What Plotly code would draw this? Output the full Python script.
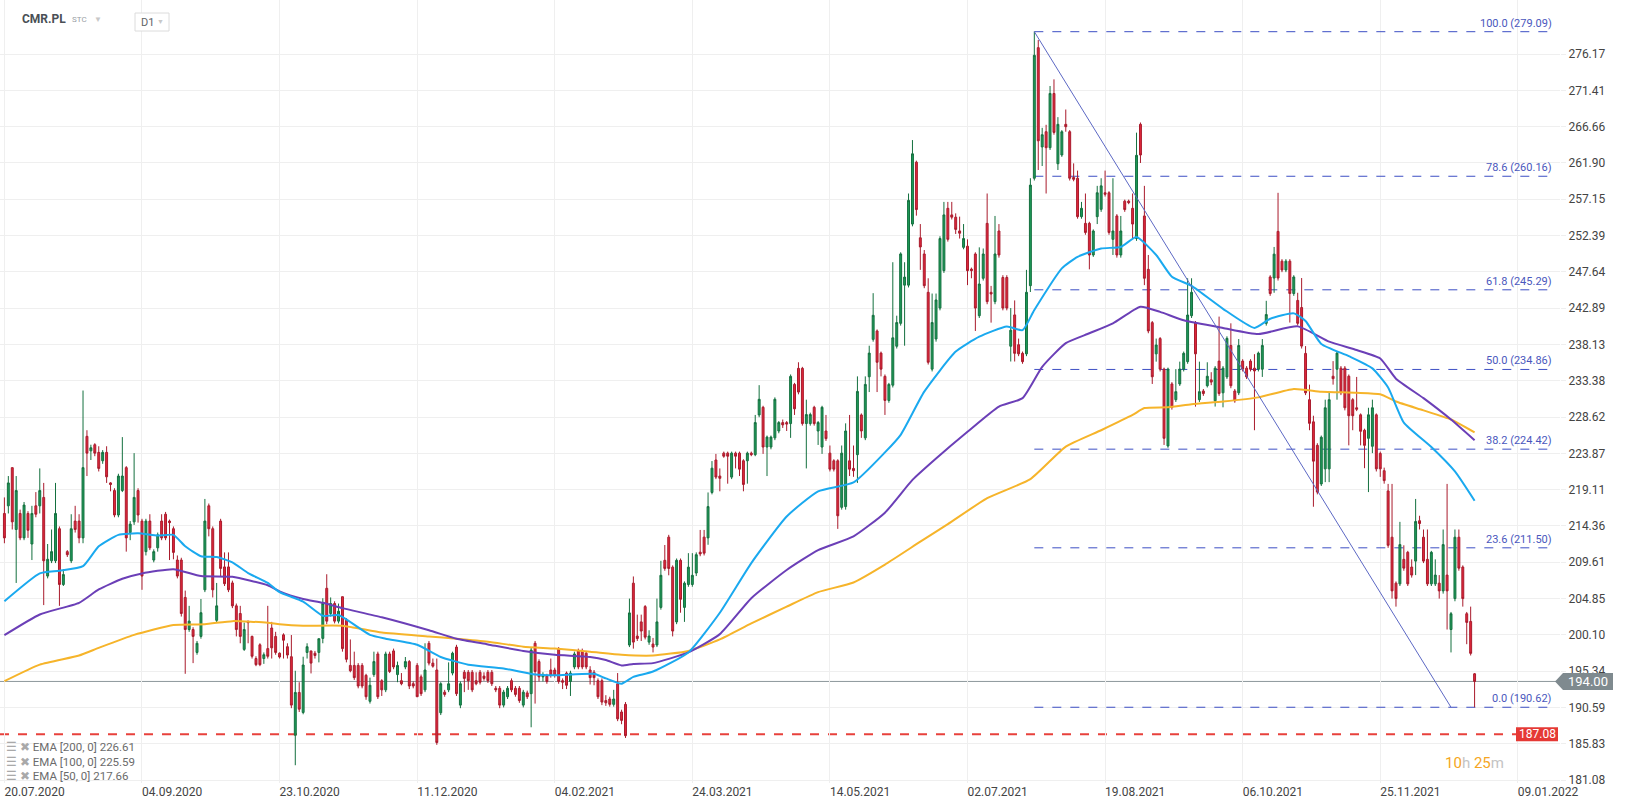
import plotly.graph_objects as go

# ---------------- DATA ----------------
# candles as (open, high, low, close), in time order, one segment per chart region
seg_a = [
    (216.0, 218.1, 212.1, 212.8), (217.0, 220.9, 216.0, 220.0), (222.0, 222.0, 213.9, 214.9),
    (213.9, 220.9, 206.9, 219.0), (216.0, 216.5, 212.5, 212.8), (212.8, 217.5, 212.5, 217.1),
    (216.0, 216.3, 212.8, 213.8), (212.0, 217.0, 209.9, 216.0), (217.0, 218.8, 215.5, 215.9),
    (217.0, 221.9, 216.0, 219.0), (218.1, 220.0, 204.0, 209.8), (207.8, 212.0, 207.5, 210.0),
    (209.8, 213.9, 209.5, 211.0), (209.8, 220.0, 209.5, 216.0), (214.0, 214.3, 203.9, 206.7),
    (206.7, 208.7, 206.5, 208.0), (211.0, 211.2, 210.3, 210.6), (209.8, 215.9, 209.5, 214.0),
    (215.0, 217.0, 213.5, 213.9), (215.0, 215.9, 212.1, 212.8), (212.8, 232.1, 212.1, 222.0),
    (226.1, 226.9, 220.9, 223.9), (224.2, 225.0, 223.0, 224.6), (225.0, 225.2, 223.5, 223.9),
    (224.0, 224.8, 221.5, 221.9), (222.9, 224.3, 222.5, 224.0), (224.0, 224.8, 220.0, 220.8),
    (220.0, 220.1, 218.9, 219.8), (219.0, 219.3, 215.5, 215.8), (215.8, 221.2, 215.5, 220.9),
    (219.0, 226.0, 218.8, 220.9), (222.0, 222.2, 211.0, 212.8), (213.5, 215.0, 212.5, 214.6),
    (214.9, 223.9, 214.5, 218.1), (219.0, 219.3, 214.8, 215.8), (215.0, 215.3, 206.0, 207.8),
    (211.0, 215.3, 210.5, 215.0), (215.0, 215.9, 211.2, 211.5), (209.9, 211.3, 209.6, 211.0),
    (211.5, 213.5, 211.0, 213.2), (215.0, 215.9, 212.5, 212.8), (215.9, 216.2, 212.5, 212.8),
    (215.0, 215.2, 209.9, 214.8), (214.0, 214.3, 210.0, 210.9), (209.9, 210.5, 207.5, 207.8),
    (209.9, 210.2, 202.5, 202.9), (205.0, 205.9, 195.0, 200.8), (200.8, 203.9, 200.5, 201.9),
    (200.8, 201.1, 196.4, 199.9), (197.8, 199.3, 197.5, 199.0), (199.9, 204.8, 199.6, 203.0),
    (206.0, 217.9, 205.7, 215.0), (217.0, 217.3, 213.0, 214.0), (214.0, 214.3, 205.0, 206.0),
    (202.0, 206.9, 201.7, 203.9), (215.0, 215.3, 207.8, 208.8), (209.0, 210.9, 206.5, 206.8),
    (209.0, 210.9, 205.7, 206.0), (206.9, 207.2, 203.6, 203.9), (203.9, 204.2, 199.9, 200.8),
    (202.9, 203.9, 199.0, 199.9), (198.2, 201.7, 198.0, 200.8), (201.9, 201.9, 199.0, 201.7),
    (199.9, 200.0, 197.0, 197.3), (197.0, 197.3, 196.0, 196.2), (198.8, 199.0, 196.0, 196.2),
    (197.0, 197.8, 196.3, 197.5), (198.3, 203.9, 197.0, 197.3), (201.0, 201.8, 197.0, 198.4),
    (199.9, 200.5, 197.5, 197.8),
]
seg_b = [
    (197.7, 197.8, 197.0, 197.2), (200.1, 200.3, 197.0, 199.4), (198.55, 199.0, 197.0, 197.46),
    (197.24, 200.08, 190.5, 190.9), (186.96, 195.4, 183.03, 192.56), (192.56, 193.9, 190.0, 190.37),
    (189.94, 197.24, 189.7, 196.15), (197.8, 199.0, 197.0, 198.55), (198.0, 198.0, 195.05, 196.4),
    (197.7, 198.0, 197.0, 197.4), (197.8, 199.6, 196.5, 199.6), (199.64, 204.9, 199.0, 204.23),
    (206.2, 208.04, 201.5, 201.9), (202.9, 205.0, 202.5, 204.2), (204.2, 204.5, 201.6, 201.9),
    (201.9, 204.2, 201.6, 203.2), (205.1, 205.1, 197.9, 198.3), (202.0, 202.3, 196.5, 196.9),
    (196.1, 199.5, 195.2, 195.4), (196.1, 197.9, 194.2, 194.5), (196.1, 196.4, 193.1, 193.4),
    (196.1, 196.4, 193.1, 193.4), (194.8, 195.0, 191.6, 192.0), (191.4, 194.5, 191.1, 193.5),
    (194.9, 197.9, 194.6, 196.6), (197.6, 197.9, 191.7, 192.0), (194.1, 194.3, 192.1, 192.9),
    (192.9, 197.9, 192.6, 197.6), (197.6, 197.9, 195.1, 195.3), (198.0, 198.3, 195.6, 195.9),
    (194.9, 196.6, 193.9, 196.1), (194.1, 195.1, 193.5, 193.7), (195.9, 197.2, 195.6, 196.6),
    (196.6, 196.8, 193.0, 193.4), (193.7, 194.0, 193.1, 193.4), (196.1, 196.4, 192.0, 192.0),
    (194.6, 194.9, 192.1, 192.4), (192.9, 199.0, 192.6, 195.5), (199.0, 199.3, 196.1, 196.4),
    (196.4, 197.0, 195.8, 196.0), (195.5, 197.0, 185.7, 186.0), (189.9, 193.9, 189.6, 193.7),
    (192.6, 192.9, 192.0, 192.3), (192.9, 196.5, 192.6, 193.7), (195.1, 197.9, 194.8, 197.7),
    (198.5, 198.8, 192.1, 192.4), (190.9, 194.0, 190.5, 193.7), (195.2, 195.5, 192.6, 194.4),
    (195.2, 195.5, 192.9, 194.1), (195.2, 195.5, 192.6, 192.9), (194.1, 195.2, 193.5, 193.7),
    (195.2, 195.5, 193.6, 193.9), (194.7, 195.2, 194.1, 194.4), (195.2, 195.5, 193.8, 194.1),
    (195.2, 195.5, 193.4, 193.7), (193.1, 193.4, 192.6, 192.9), (193.1, 193.4, 190.5, 190.9),
    (190.9, 192.9, 190.6, 192.6), (192.0, 193.4, 191.7, 193.1), (194.1, 194.4, 192.6, 192.9),
    (193.1, 193.4, 192.0, 192.3), (193.1, 193.4, 191.2, 191.5), (190.9, 192.9, 190.6, 192.6),
    (192.5, 192.8, 191.7, 192.0), (192.4, 198.4, 188.0, 198.1), (199.0, 199.3, 191.1, 195.3),
    (196.6, 196.9, 194.0, 194.6), (194.6, 195.2, 194.0, 194.8), (194.7, 195.0, 193.7, 194.0),
    (195.5, 197.0, 194.5, 194.8), (195.5, 195.8, 194.5, 194.8), (198.3, 198.5, 193.7, 194.0),
    (194.1, 194.4, 193.0, 193.9), (195.1, 195.3, 193.0, 193.5), (194.0, 195.4, 192.1, 195.1),
    (195.9, 197.9, 195.6, 197.6), (198.0, 198.3, 195.6, 195.9), (198.0, 198.3, 195.6, 195.9),
    (197.7, 198.0, 195.6, 195.9), (195.5, 196.0, 193.6, 194.5), (195.2, 195.5, 193.5, 194.5),
    (194.1, 194.4, 191.7, 192.0), (194.1, 194.4, 190.9, 191.3), (191.5, 192.2, 190.8, 191.2),
    (191.7, 192.0, 190.7, 191.0), (191.0, 192.9, 190.7, 191.7), (193.7, 195.1, 188.8, 189.1),
    (190.0, 190.3, 188.4, 188.9), (191.0, 191.3, 186.6, 186.9),
]
seg_c = [
    (198.77, 204.85, 198.5, 202.98), (206.87, 207.75, 198.3, 199.15), (199.95, 202.75, 199.3, 199.62),
    (201.8, 202.75, 199.3, 200.6), (203.8, 204.0, 199.5, 199.8), (199.15, 200.7, 198.8, 199.95),
    (198.9, 199.7, 197.8, 198.5), (198.77, 204.85, 198.5, 201.8), (203.7, 209.8, 203.4, 207.9),
    (209.86, 211.87, 208.5, 208.8), (212.9, 213.2, 207.9, 208.8), (208.97, 209.2, 199.9, 200.6),
    (201.8, 210.1, 201.5, 209.86), (209.86, 210.1, 203.0, 204.76), (203.7, 207.1, 201.8, 206.87),
    (206.7, 210.8, 206.4, 208.97), (206.7, 210.8, 206.4, 207.9), (208.2, 210.9, 207.8, 210.6),
    (210.93, 213.84, 210.4, 210.7), (212.9, 213.84, 210.5, 210.8), (212.8, 218.75, 211.9, 216.9),
    (218.75, 222.86, 218.5, 221.93), (223.0, 223.8, 220.5, 220.76), (220.9, 221.9, 218.9, 220.6),
    (223.9, 224.1, 223.3, 223.5), (223.9, 224.1, 219.9, 223.5), (220.76, 224.1, 220.5, 223.9),
    (223.9, 224.1, 221.9, 223.5), (223.9, 224.1, 220.9, 221.8), (222.9, 223.1, 218.9, 219.8),
    (222.9, 224.1, 219.9, 223.9), (223.9, 224.1, 223.5, 223.7), (223.7, 228.9, 223.5, 227.9),
    (228.9, 232.8, 228.6, 230.95), (229.9, 230.1, 223.8, 224.7), (224.7, 226.2, 220.9, 226.0),
    (224.7, 226.2, 224.4, 226.0), (225.9, 231.2, 225.6, 230.95), (226.8, 228.1, 226.5, 227.9),
    (227.9, 228.3, 227.2, 227.6), (227.9, 228.1, 226.8, 227.7), (227.77, 234.2, 225.9, 233.95),
    (232.9, 233.1, 228.9, 229.7), (235.0, 235.8, 231.6, 231.9), (235.0, 235.2, 227.5, 227.77),
    (227.77, 230.9, 221.9, 228.95), (227.77, 229.2, 227.5, 228.95), (229.9, 230.1, 227.5, 227.77),
    (226.8, 228.1, 224.97, 227.9), (224.7, 230.1, 223.8, 229.9), (226.8, 228.9, 225.5, 225.8),
    (223.9, 224.9, 221.5, 221.8), (222.9, 223.1, 221.5, 221.8), (222.9, 223.1, 213.98, 215.7),
    (216.8, 224.9, 216.5, 223.9), (216.9, 227.8, 216.5, 226.8), (222.9, 228.9, 220.9, 221.8),
    (221.9, 224.9, 220.8, 221.6), (223.7, 233.95, 220.0, 231.98), (228.9, 229.1, 225.9, 226.8),
    (225.9, 233.95, 225.6, 232.9), (233.9, 237.97, 231.9, 237.0), (238.8, 244.85, 238.5, 241.95),
    (239.9, 240.1, 231.9, 235.8), (237.0, 237.2, 233.95, 234.9), (233.95, 234.2, 228.9, 230.8),
    (230.8, 233.1, 230.5, 232.9), (232.8, 248.9, 232.5, 239.0), (237.9, 241.9, 237.6, 241.0),
    (240.9, 250.2, 240.6, 249.99), (245.9, 248.9, 237.97, 246.95), (245.9, 257.9, 245.6, 257.0),
    (253.9, 264.9, 253.6, 263.1), (262.0, 262.2, 255.0, 255.8), (252.1, 253.9, 247.9, 250.9),
]
seg_d = [
    (249.98, 250.5, 245.5, 245.83), (244.96, 246.8, 235.5, 235.8), (234.9, 244.8, 234.6, 241.0),
    (238.85, 244.8, 238.5, 243.96), (242.9, 252.3, 242.6, 252.0), (247.8, 256.8, 247.5, 255.1),
    (255.96, 256.8, 251.6, 251.9), (255.1, 256.8, 254.5, 254.8), (254.8, 255.3, 252.6, 253.2),
    (253.0, 254.87, 252.0, 252.7), (250.85, 253.9, 250.6, 252.0), (251.0, 251.9, 245.9, 247.8),
    (248.0, 248.2, 246.8, 247.8), (249.98, 250.2, 239.9, 242.9), (241.9, 250.85, 241.6, 246.05),
    (246.8, 250.7, 246.5, 249.98), (253.99, 257.9, 243.4, 243.74), (244.96, 245.8, 240.99, 244.74),
    (243.74, 254.96, 243.4, 249.98), (252.99, 253.9, 249.5, 249.85), (246.9, 247.2, 242.6, 242.9),
    (246.9, 247.2, 242.6, 242.9), (237.9, 242.9, 235.9, 240.0), (242.0, 243.9, 235.9, 236.97),
    (238.1, 238.9, 236.6, 236.9), (236.97, 237.2, 235.6, 235.88), (236.9, 247.9, 236.6, 244.96),
    (245.83, 259.9, 245.0, 259.0), (259.9, 279.09, 259.6, 276.0), (277.0, 278.0, 260.98, 264.8),
    (264.0, 266.5, 261.5, 265.6), (265.99, 266.9, 257.9, 263.9), (263.9, 271.98, 263.6, 271.0),
    (271.0, 272.85, 265.6, 265.9), (261.8, 267.9, 260.98, 266.96), (262.95, 266.2, 262.7, 265.99),
    (266.96, 268.9, 265.99, 266.65), (265.99, 266.2, 259.6, 259.9), (260.0, 261.85, 259.5, 259.76),
    (259.9, 260.9, 254.6, 254.87), (254.87, 256.8, 254.6, 255.96), (253.99, 257.9, 252.5, 252.8),
    (253.99, 254.2, 247.97, 249.85), (249.85, 253.2, 249.6, 252.99), (254.87, 258.9, 253.9, 258.0),
    (255.83, 259.9, 255.5, 258.9), (258.0, 260.9, 257.5, 257.8), (258.0, 258.2, 252.5, 252.8),
    (251.9, 259.9, 249.85, 252.99), (254.96, 255.2, 249.5, 249.85), (249.85, 254.96, 249.5, 252.99),
    (256.9, 257.1, 255.5, 255.8), (256.9, 257.1, 256.5, 256.7), (255.96, 257.9, 252.0, 253.9),
    (252.0, 265.87, 251.7, 262.9), (266.96, 267.2, 261.9, 262.94), (254.96, 258.9, 245.9, 246.8),
    (247.97, 249.85, 239.6, 239.9), (240.99, 241.2, 232.96, 233.9), (236.9, 238.9, 235.88, 238.06),
    (238.9, 239.1, 234.6, 234.9), (234.9, 235.1, 224.97, 225.84), (224.84, 235.1, 224.6, 234.9),
    (232.96, 233.2, 229.6, 229.9), (230.9, 234.9, 230.6, 231.95), (232.96, 235.88, 232.7, 234.9),
    (234.9, 237.2, 234.6, 236.97), (235.88, 246.8, 235.6, 241.99), (241.9, 246.8, 241.6, 244.96),
    (240.99, 241.2, 229.99, 236.9), (230.9, 235.88, 230.6, 231.95),
]
seg_e = [
    (232.04, 232.3, 231.4, 231.7), (232.73, 235.8, 232.5, 233.97), (233.5, 234.5, 232.8, 233.2),
    (230.76, 235.3, 230.0, 235.03), (235.95, 241.78, 231.4, 231.7), (231.8, 235.3, 229.9, 235.03),
    (233.88, 239.2, 233.6, 238.93), (238.0, 240.9, 232.4, 232.73), (232.04, 232.3, 230.5, 230.76),
    (231.8, 238.84, 231.5, 238.0), (235.95, 236.2, 234.6, 234.89), (235.03, 235.3, 233.6, 233.88),
    (235.95, 236.2, 234.6, 234.89), (235.03, 236.86, 226.9, 234.66), (234.89, 237.2, 234.6, 237.0),
    (234.89, 238.84, 233.88, 238.0), (240.9, 243.85, 240.6, 242.05), (246.97, 247.2, 244.5, 244.8),
    (246.83, 250.9, 244.9, 249.96), (252.94, 257.99, 246.5, 246.83), (249.04, 249.3, 247.6, 247.89),
    (247.89, 249.3, 247.6, 249.04), (249.04, 249.3, 241.0, 244.8), (244.8, 247.2, 244.5, 246.97),
    (243.9, 244.9, 240.6, 240.9), (242.97, 246.83, 237.6, 237.92), (236.96, 237.92, 231.5, 231.8),
    (230.9, 232.87, 226.9, 227.8), (228.0, 228.8, 216.88, 222.85), (224.92, 225.2, 218.5, 218.8),
    (219.87, 226.2, 219.6, 225.98), (221.84, 230.9, 220.1, 229.84), (221.84, 231.95, 220.1, 230.9),
    (233.97, 235.95, 232.87, 233.65), (234.89, 237.2, 230.9, 237.0), (235.03, 235.3, 231.5, 231.8),
    (235.03, 235.3, 229.5, 229.84), (233.97, 234.2, 224.92, 228.8), (230.9, 231.1, 226.9, 228.8),
    (229.84, 233.88, 229.4, 229.65), (228.92, 229.1, 224.92, 226.76), (226.9, 227.1, 221.93, 224.92),
    (225.84, 229.84, 218.8, 228.92), (224.8, 230.9, 223.9, 229.84), (228.92, 229.1, 221.5, 221.84),
    (223.86, 224.1, 220.79, 221.84), (221.6, 222.0, 219.9, 220.3), (218.95, 219.87, 211.5, 211.83),
    (212.89, 219.87, 204.85, 205.86), (206.87, 207.1, 203.8, 204.85), (206.78, 214.9, 206.5, 211.92),
    (209.99, 211.83, 208.5, 208.84), (210.91, 211.1, 206.5, 206.78), (208.98, 209.99, 207.6, 207.93),
    (209.76, 217.9, 207.93, 214.95), (215.05, 215.7, 213.9, 214.68), (212.89, 213.9, 209.5, 209.76),
    (209.99, 213.9, 206.5, 206.78), (206.78, 211.1, 206.5, 210.91), (206.78, 209.99, 206.5, 207.93),
    (206.87, 207.93, 204.85, 205.86), (205.86, 213.9, 205.5, 211.92), (207.93, 219.87, 200.8, 205.86),
    (200.8, 203.1, 197.8, 202.87), (204.85, 213.9, 204.5, 212.89), (212.89, 213.9, 208.5, 208.84),
    (208.98, 209.2, 203.8, 204.85), (202.87, 203.1, 198.88, 201.73), (201.86, 203.8, 197.4, 197.68),
    (195.0, 195.1, 190.62, 194.0),
]

# EMA readings (bar number, value)
ema50_idx = [0, 9, 14, 20, 24, 29, 34, 39, 43, 46, 50, 54, 58, 62, 67, 70, 76, 81, 85, 93, 97, 105, 111,
             118, 127, 135, 140, 150, 153, 157, 160, 165, 174, 182, 190, 199, 207, 216, 224, 228, 234, 242,
             248, 255, 259, 262, 269, 273, 279, 284, 288, 293, 297, 302, 310, 318, 322, 328, 331, 335, 342,
             348, 352, 356, 363, 369, 374]
ema50_val = [204.5, 208.15, 208.5, 209.1, 211.7, 213.2, 213.4, 213.1, 213.2, 211.7, 210.4, 210.3, 209.6,
             208.2, 206.9, 205.7, 204.45, 202.6, 202.7, 200.1, 199.6, 198.8, 197.2, 196.2, 195.7, 194.9,
             194.8, 195.0, 194.4, 193.7, 194.6, 195.3, 197.8, 203.0, 209.5, 215.6, 218.9, 220.06, 224.0,
             226.3, 231.95, 237.2, 239.15, 240.5, 240.0, 242.65, 248.1, 249.6, 250.7, 250.9, 252.2, 249.85,
             247.0, 245.8, 242.8, 240.3, 241.5, 242.2, 241.2, 238.2, 236.6, 235.0, 232.5, 227.9, 224.7,
             221.5, 217.66]
ema100_idx = [0, 9, 19, 24, 30, 35, 43, 50, 58, 67, 70, 76, 81, 86, 96, 108, 115, 123, 132, 140, 149, 153,
              157, 160, 165, 174, 182, 190, 199, 207, 216, 224, 231, 237, 245, 253, 259, 264, 270, 276, 282,
              289, 294, 300, 310, 319, 329, 337, 344, 350, 354, 361, 368, 374]
ema100_val = [200.06, 202.77, 204.3, 206.05, 207.45, 208.15, 208.7, 207.8, 207.7, 206.6, 205.8, 204.8,
              204.3, 203.6, 202.4, 200.7, 199.6, 198.85, 198.0, 197.5, 197.2, 196.8, 196.1, 196.3, 196.4,
              197.8, 200.2, 204.9, 208.6, 211.2, 213.0, 216.1, 220.4, 223.2, 226.7, 230.0, 231.1, 235.2,
              238.3, 239.6, 240.9, 243.08, 242.4, 241.3, 240.3, 239.5, 240.5, 238.5, 237.4, 236.3, 233.65,
              231.1, 228.3, 225.59]
ema200_idx = [0, 9, 19, 24, 33, 43, 51, 58, 67, 70, 76, 86, 96, 108, 115, 123, 132, 140, 149, 157, 165,
              174, 182, 190, 199, 207, 216, 224, 233, 240, 250, 261, 270, 279, 287, 290, 296, 302, 310, 319,
              328, 335, 344, 350, 354, 361, 368, 374]
ema200_val = [194.03, 196.2, 197.4, 198.4, 200.1, 201.4, 201.5, 201.9, 201.7, 201.5, 201.3, 201.3, 200.4,
              199.9, 199.6, 199.2, 198.55, 198.3, 197.9, 197.5, 197.4, 198.0, 199.5, 201.6, 203.8, 205.7,
              206.96, 209.3, 212.3, 214.6, 218.0, 220.5, 224.75, 226.9, 228.9, 229.8, 229.9, 230.3, 230.66,
              231.2, 232.3, 231.95, 231.8, 231.6, 230.66, 229.5, 228.3, 226.61]

date_labels = ["20.07.2020", "04.09.2020", "23.10.2020", "11.12.2020", "04.02.2021", "24.03.2021",
               "14.05.2021", "02.07.2021", "19.08.2021", "06.10.2021", "25.11.2021", "09.01.2022"]
price_ticks = [181.08, 185.83, 190.59, 195.34, 200.10, 204.85, 209.61, 214.36, 219.11, 223.87, 228.62,
               233.38, 238.13, 242.89, 247.64, 252.39, 257.15, 261.90, 266.66, 271.41, 276.17]
fib_levels = [100.0, 78.6, 61.8, 50.0, 38.2, 23.6, 0.0]
fib_prices = [279.09, 260.16, 245.29, 234.86, 224.42, 211.50, 190.62]
swing_high_bar = 262
trend_end_bar = 368
last_price = 194.00
support_price = 187.08
ema_legend = [("EMA [200, 0]", 226.61), ("EMA [100, 0]", 225.59), ("EMA [50, 0]", 217.66)]

# ---------------- BUILD ----------------
rows = seg_a + seg_b + seg_c + seg_d + seg_e
opens = [r[0] for r in rows]
highs = [max(r) for r in rows]
lows = [min(r) for r in rows]
closes = [r[3] for r in rows]
bars = list(range(len(rows)))

W, H = 1626, 807
ML, MR, MT, MB = 0, 66, 0, 24
PW, PH = W - ML - MR, H - MT - MB
PX_PER_BAR = 3.931
X0 = -4.4 / PX_PER_BAR
X1 = X0 + PW / PX_PER_BAR
PX_PER_UNIT = 7.636
Y1 = 276.17 + 54 / PX_PER_UNIT
Y0 = 276.17 - (PH - 54) / PX_PER_UNIT

def bx(px):  # pixel x -> bar coordinate
    return X0 + (px - ML) / PX_PER_BAR

def pxp(px):  # pixel x -> paper
    return (px - ML) / PW

def pyp(py):  # pixel y -> paper
    return 1 - (py - MT) / PH

FONT = "Roboto, 'Open Sans', sans-serif"
fig = go.Figure()

shapes = []
shapes.append(dict(type="line", xref="paper", yref="y", x0=0, x1=1, y0=last_price, y1=last_price,
                   line=dict(color="#8d979c", width=1), layer="between"))
shapes.append(dict(type="line", xref="paper", yref="y", x0=0, x1=pxp(1516), y0=support_price,
                   y1=support_price, line=dict(color="#e8413c", width=2, dash="dash"), layer="between"))
fib_end = bx(1554)
for lv, pr in zip(fib_levels, fib_prices):
    shapes.append(dict(type="line", xref="x", yref="y", x0=swing_high_bar, x1=fib_end, y0=pr, y1=pr,
                       line=dict(color="#3d4fc4", width=1, dash="dash"), layer="between"))
shapes.append(dict(type="line", xref="x", yref="y", x0=swing_high_bar, y0=fib_prices[0],
                   x1=trend_end_bar, y1=fib_prices[-1], line=dict(color="#5c68c4", width=1), layer="above"))

fig.add_trace(go.Scatter(x=ema200_idx, y=ema200_val, mode="lines", line=dict(color="#f6b42a", width=2,
                         shape="spline", smoothing=0.5), hoverinfo="skip", showlegend=False))
fig.add_trace(go.Scatter(x=ema100_idx, y=ema100_val, mode="lines", line=dict(color="#6b3fb7", width=2,
                         shape="spline", smoothing=0.5), hoverinfo="skip", showlegend=False))
fig.add_trace(go.Scatter(x=ema50_idx, y=ema50_val, mode="lines", line=dict(color="#1aa9ef", width=2,
                         shape="spline", smoothing=0.5), hoverinfo="skip", showlegend=False))

fig.add_trace(go.Candlestick(
    x=bars, open=opens, high=highs, low=lows, close=closes,
    increasing=dict(line=dict(color="#14703f", width=1), fillcolor="#1e9a59"),
    decreasing=dict(line=dict(color="#a91b2c", width=1), fillcolor="#e0273b"),
    whiskerwidth=0, showlegend=False, hoverinfo="skip"))

annotations = []
for lv, pr in zip(fib_levels, fib_prices):
    annotations.append(dict(x=fib_end, y=pr, xref="x", yref="y", xanchor="right", yanchor="bottom",
                            yshift=0, text=f"{lv:.1f} ({pr:.2f})", showarrow=False,
                            font=dict(family=FONT, size=11, color="#4a57bd")))

u = 1 / PX_PER_UNIT
shapes.append(dict(type="path", xref="paper", yref="y",
                   path=(f"M {pxp(1555)} {last_price} L {pxp(1563)} {last_price + 8.5*u} "
                         f"L {pxp(1613)} {last_price + 8.5*u} L {pxp(1613)} {last_price - 8.5*u} "
                         f"L {pxp(1563)} {last_price - 8.5*u} Z"),
                   fillcolor="#7f8a8f", line=dict(width=0), layer="above"))
annotations.append(dict(x=pxp(1588), y=last_price, xref="paper", yref="y", xanchor="center",
                        yanchor="middle", text=f"{last_price:.2f}", showarrow=False,
                        font=dict(family=FONT, size=13, color="white")))
shapes.append(dict(type="rect", xref="paper", yref="y", x0=pxp(1516), x1=pxp(1558),
                   y0=support_price - 7 * u, y1=support_price + 7 * u, fillcolor="#e53935",
                   line=dict(width=0), layer="above"))
annotations.append(dict(x=pxp(1537), y=support_price, xref="paper", yref="y", xanchor="center",
                        yanchor="middle", text=f"{support_price:.2f}", showarrow=False,
                        font=dict(family=FONT, size=12, color="white")))

# header
shapes.append(dict(type="rect", xref="paper", yref="paper", x0=pxp(135), x1=pxp(169), y0=pyp(31),
                   y1=pyp(13), fillcolor="white", line=dict(color="#dcdcdc", width=1), layer="above"))
annotations.append(dict(x=pxp(20), y=pyp(19), xref="paper", yref="paper", xanchor="left", yanchor="middle",
                        text="<b>CMR.PL</b>", showarrow=False, font=dict(family=FONT, size=12, color="#4a4f55")))
annotations.append(dict(x=pxp(70), y=pyp(19), xref="paper", yref="paper", xanchor="left", yanchor="middle",
                        text="STC", showarrow=False, font=dict(family=FONT, size=8, color="#9aa0a6")))
annotations.append(dict(x=pxp(92), y=pyp(19), xref="paper", yref="paper", xanchor="left", yanchor="middle",
                        text="▼", showarrow=False, font=dict(family=FONT, size=8, color="#c8c8c8")))
annotations.append(dict(x=pxp(139), y=pyp(22), xref="paper", yref="paper", xanchor="left", yanchor="middle",
                        text="D1", showarrow=False, font=dict(family=FONT, size=11, color="#5f6368")))
annotations.append(dict(x=pxp(155), y=pyp(22), xref="paper", yref="paper", xanchor="left", yanchor="middle",
                        text="▼", showarrow=False, font=dict(family=FONT, size=7, color="#c8c8c8")))

for k, (name, val) in enumerate(ema_legend):
    annotations.append(dict(x=pxp(4), y=pyp(747 + 14.5 * k), xref="paper", yref="paper", xanchor="left",
                            yanchor="middle", showarrow=False,
                            text=f"<span style='color:#a9a9a9'>☰ ✖</span> {name} {val:.2f}",
                            font=dict(family=FONT, size=11.5, color="#6b6b6b")))

annotations.append(dict(x=pxp(1474), y=pyp(763), xref="paper", yref="paper", xanchor="center",
                        yanchor="middle", showarrow=False,
                        text=("<span style='color:#f5a623'>10</span><span style='color:#c4c4c4'>h</span> "
                              "<span style='color:#f5a623'>25</span><span style='color:#c4c4c4'>m</span>"),
                        font=dict(family=FONT, size=15)))

fig.update_layout(
    width=W, height=H, margin=dict(l=ML, r=MR, t=MT, b=MB),
    paper_bgcolor="white", plot_bgcolor="white", showlegend=False,
    shapes=shapes, annotations=annotations, hovermode=False,
    xaxis=dict(range=[X0, X1], rangeslider=dict(visible=False), tickmode="array",
               tickvals=[35 * k for k in range(len(date_labels))], ticktext=date_labels,
               ticklabelposition="outside right", showgrid=True, gridcolor="#efefef", gridwidth=1,
               zeroline=False, showline=False, ticks="", fixedrange=True,
               tickfont=dict(family=FONT, size=12, color="#444")),
    yaxis=dict(range=[Y0, Y1], side="right", tickmode="array", tickvals=price_ticks,
               ticktext=[f"{t:.2f}" for t in price_ticks], showgrid=True, gridcolor="#efefef",
               zeroline=False, showline=False, ticks="outside", ticklen=5, tickcolor="#efefef",
               tickfont=dict(family=FONT, size=12, color="#444"), fixedrange=True),
)

fig.write_html("out.html", config={"displayModeBar": False, "staticPlot": True},
               post_script="document.body.style.margin='0';document.body.style.overflow='hidden';")
